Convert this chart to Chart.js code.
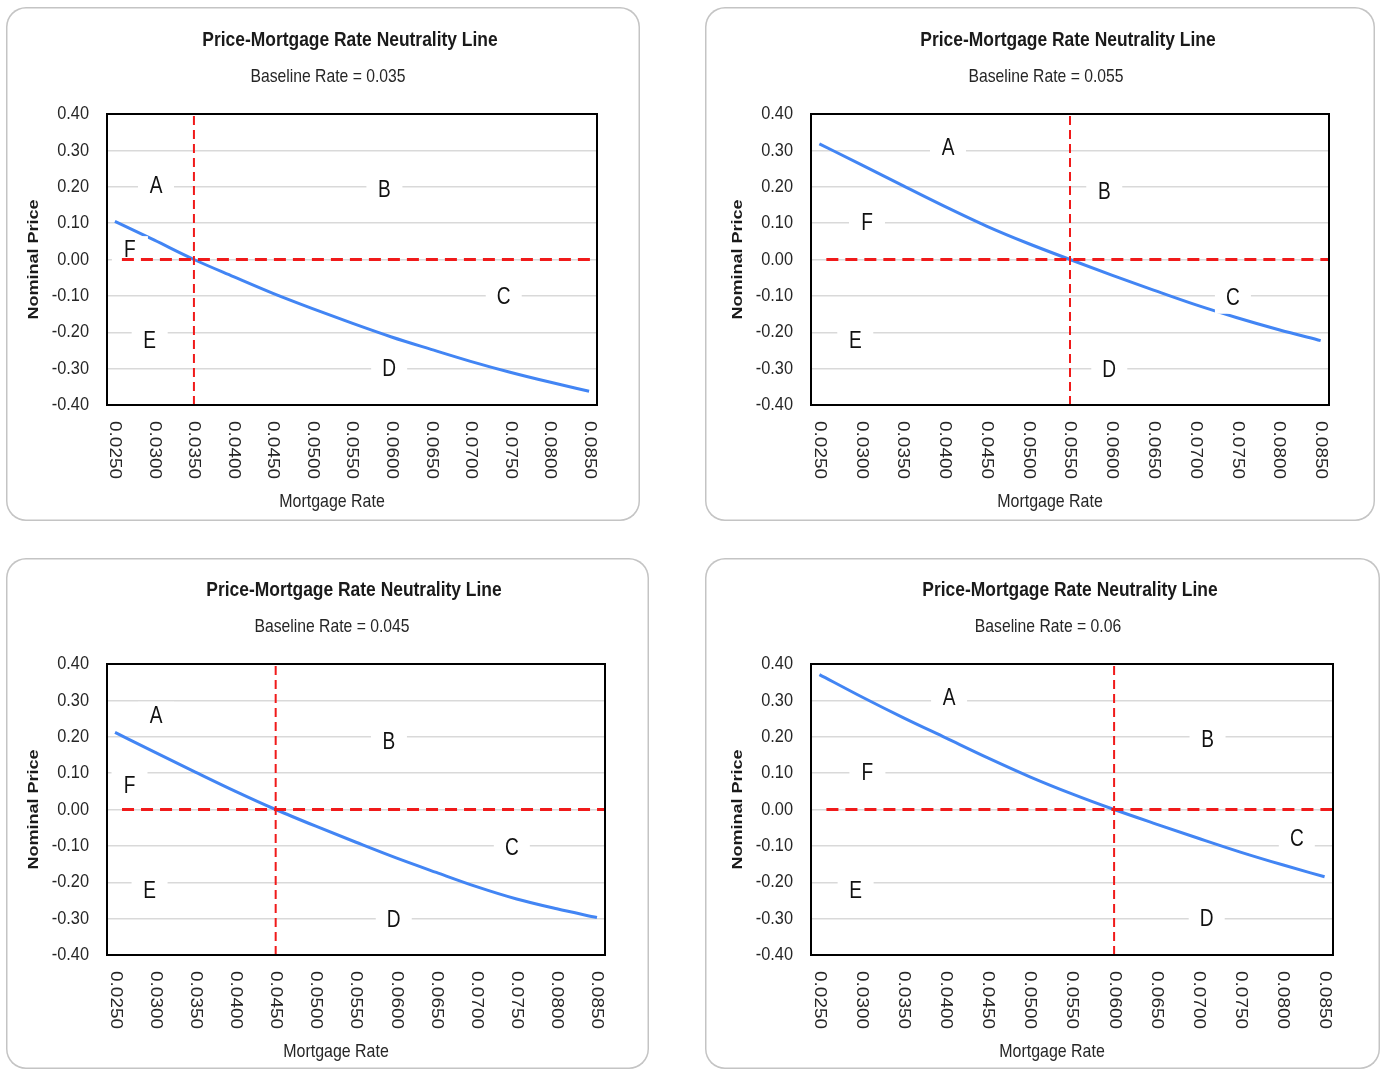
<!DOCTYPE html>
<html>
<head>
<meta charset="utf-8">
<script src="https://cdn.jsdelivr.net/npm/chart.js@4.4.1/dist/chart.umd.min.js"></script>
<style>
  body { margin: 0; background: #fff; width: 1382px; height: 1070px; overflow: hidden; position: relative; }
  .panel { position: absolute; border-radius: 20px; background: #fff; box-shadow: inset 0 0 0 1.5px #c4c4c4; }
</style>
</head>
<body>
<div class="panel" style="left:6px;top:7px;width:634px;height:514px"><canvas id="c1"></canvas></div>
<div class="panel" style="left:705px;top:7px;width:670px;height:514px"><canvas id="c2"></canvas></div>
<div class="panel" style="left:6px;top:558px;width:643px;height:511px"><canvas id="c3"></canvas></div>
<div class="panel" style="left:705px;top:558px;width:675px;height:511px"><canvas id="c4"></canvas></div>
<script>
// mortgage rates on the x axis
const rates = [0.025, 0.030, 0.035, 0.040, 0.045, 0.050, 0.055, 0.060, 0.065, 0.070, 0.075, 0.080, 0.085];
const xTickLabels = rates.map(r => r.toFixed(4));

// nominal price for each baseline rate
const priceBase035 = [0.105, 0.053, 0.000, -0.047, -0.093, -0.135, -0.175, -0.213, -0.247, -0.280, -0.310, -0.337, -0.362];
const priceBase055 = [0.318, 0.261, 0.203, 0.146, 0.092, 0.044, 0.000, -0.043, -0.084, -0.124, -0.160, -0.193, -0.223];
const priceBase045 = [0.212, 0.157, 0.103, 0.050, 0.000, -0.046, -0.090, -0.133, -0.173, -0.212, -0.246, -0.273, -0.297];
const priceBase060 = [0.371, 0.310, 0.252, 0.197, 0.142, 0.090, 0.043, 0.000, -0.040, -0.079, -0.117, -0.152, -0.185];

// region letters [text, rate, price]
const zonesBase035 = [['A', 0.0302, 0.200], ['B', 0.0591, 0.190], ['C', 0.0742, -0.105], ['D', 0.0597, -0.303], ['E', 0.0294, -0.225], ['F', 0.0269, 0.023]];
const zonesBase055 = [['A', 0.0404, 0.305], ['B', 0.0591, 0.185], ['C', 0.0745, -0.108], ['D', 0.0597, -0.305], ['E', 0.0293, -0.226], ['F', 0.0307, 0.098]];
const zonesBase045 = [['A', 0.0301, 0.255], ['B', 0.0591, 0.185], ['C', 0.0744, -0.108], ['D', 0.0597, -0.305], ['E', 0.0293, -0.226], ['F', 0.0268, 0.062]];
const zonesBase060 = [['A', 0.0404, 0.305], ['B', 0.0711, 0.189], ['C', 0.0817, -0.082], ['D', 0.0710, -0.302], ['E', 0.0293, -0.226], ['F', 0.0307, 0.098]];

const X_MIN = 0.024, X_MAX = 0.086;
const Y_MIN = -0.4, Y_MAX = 0.4;

const TITLE = 'Price-Mortgage Rate Neutrality Line';
const X_TITLE = 'Mortgage Rate';
const Y_TITLE = 'Nominal Price';
const FONT = '"Liberation Sans", Arial, sans-serif';

// texte un peu comprimé horizontalement, comme dans l'original
function drawText(ctx, txt, x, y, font, color, squeeze, align) {
  ctx.save();
  ctx.font = font;
  ctx.fillStyle = color;
  ctx.textAlign = align || 'center';
  ctx.textBaseline = 'middle';
  ctx.translate(x, y);
  ctx.scale(squeeze, 1);
  ctx.fillText(txt, 0, 0);
  ctx.restore();
}

function panelPlugin(p) {
  return {
    id: 'panel_' + p.id,
    afterDatasetDraw(chart, args) {
      if (args.index !== 0) return;
      const ctx = chart.ctx, xs = chart.scales.x, ys = chart.scales.y;
      p.zones.forEach(([t, zx, zy]) => {
        const px = xs.getPixelForValue(zx), py = ys.getPixelForValue(zy);
        ctx.save();
        ctx.fillStyle = '#fff';
        ctx.fillRect(px - 18, py - 15, 36, 30);
        ctx.restore();
        drawText(ctx, t, px, py, '23px ' + FONT, '#111', 0.83, 'center');
      });
    },
    afterDraw(chart) {
      const ctx = chart.ctx, a = chart.chartArea, xs = chart.scales.x, ys = chart.scales.y;
      const cx = (a.left + a.right) / 2;

      // cadre noir du graphique
      ctx.save();
      ctx.strokeStyle = '#000';
      ctx.lineWidth = 2;
      ctx.strokeRect(a.left, a.top, a.right - a.left, a.bottom - a.top);
      ctx.restore();

      drawText(ctx, TITLE, cx - 2, a.top - 74, 'bold 21px ' + FONT, '#1a1a1a', 0.83, 'center');
      drawText(ctx, 'Baseline Rate = ' + String(p.baseline), cx - 24, a.top - 37, '18.5px ' + FONT, '#262626', 0.85, 'center');
      drawText(ctx, X_TITLE, cx - 20, a.bottom + 97, '19px ' + FONT, '#262626', 0.84, 'center');

      // titre axe y
      ctx.save();
      ctx.translate(a.left - 73, (a.top + a.bottom) / 2);
      ctx.rotate(-Math.PI / 2);
      ctx.scale(1, 0.86);
      ctx.font = 'bold 18px ' + FONT;
      ctx.fillStyle = '#1a1a1a';
      ctx.textAlign = 'center';
      ctx.textBaseline = 'middle';
      ctx.fillText(Y_TITLE, 0, 0);
      ctx.restore();

      // etiquettes axe y
      ys.ticks.forEach(t => {
        const v = Math.round(t.value * 100) / 100;
        drawText(ctx, v.toFixed(2), a.left - 18, ys.getPixelForValue(t.value), '19px ' + FONT, '#262626', 0.86, 'right');
      });

      // etiquettes axe x, tournées de 90°
      rates.forEach((r, i) => {
        ctx.save();
        ctx.translate(xs.getPixelForValue(r), a.bottom + 16);
        ctx.rotate(Math.PI / 2);
        ctx.scale(1, 0.86);
        ctx.font = '19px ' + FONT;
        ctx.fillStyle = '#262626';
        ctx.textAlign = 'left';
        ctx.textBaseline = 'middle';
        ctx.fillText(xTickLabels[i], 0, 0);
        ctx.restore();
      });
    }
  };
}

function makeChart(p) {
  const ctx = document.getElementById(p.id);
  return new Chart(ctx, {
    type: 'line',
    data: {
      datasets: [
        {
          data: rates.map((r, i) => ({ x: r, y: p.values[i] })),
          borderColor: '#4285f4',
          borderWidth: 3,
          pointRadius: 0,
          cubicInterpolationMode: 'monotone',
          order: 3
        },
        {
          data: [{ x: rates[0], y: 0 }, { x: X_MAX, y: 0 }],
          borderColor: '#f01a1a',
          borderWidth: 3,
          borderDash: [12, 7],
          borderDashOffset: 12,
          pointRadius: 0,
          order: 2
        },
        {
          data: [{ x: p.baseline, y: Y_MIN }, { x: p.baseline, y: Y_MAX }],
          borderColor: '#f01a1a',
          borderWidth: 2,
          borderDash: [9, 5],
          pointRadius: 0,
          order: 1
        }
      ]
    },
    options: {
      responsive: true,
      maintainAspectRatio: false,
      animation: false,
      events: [],
      layout: { padding: { left: 0, right: p.right, top: p.top, bottom: 0 } },
      plugins: { legend: { display: false }, tooltip: { enabled: false } },
      scales: {
        x: {
          type: 'linear',
          min: X_MIN,
          max: X_MAX,
          grid: { display: false },
          border: { display: false },
          ticks: { display: false },
          afterBuildTicks: s => { s.ticks = rates.map(v => ({ value: v })); },
          afterFit: s => { s.height = p.xh; }
        },
        y: {
          min: Y_MIN,
          max: Y_MAX,
          ticks: { display: false, stepSize: 0.1 },
          grid: { color: '#d9d9d9', lineWidth: 1.5, drawTicks: false },
          border: { display: false },
          afterFit: s => { s.width = p.yw; }
        }
      }
    },
    plugins: [panelPlugin(p)]
  });
}

makeChart({ id: 'c1', baseline: 0.035, values: priceBase035, zones: zonesBase035, yw: 101, right: 43, top: 107, xh: 116 });
makeChart({ id: 'c2', baseline: 0.055, values: priceBase055, zones: zonesBase055, yw: 106, right: 46, top: 107, xh: 116 });
makeChart({ id: 'c3', baseline: 0.045, values: priceBase045, zones: zonesBase045, yw: 101, right: 44, top: 106, xh: 114 });
makeChart({ id: 'c4', baseline: 0.06, values: priceBase060, zones: zonesBase060, yw: 106, right: 47, top: 106, xh: 114 });
</script>
</body>
</html>
